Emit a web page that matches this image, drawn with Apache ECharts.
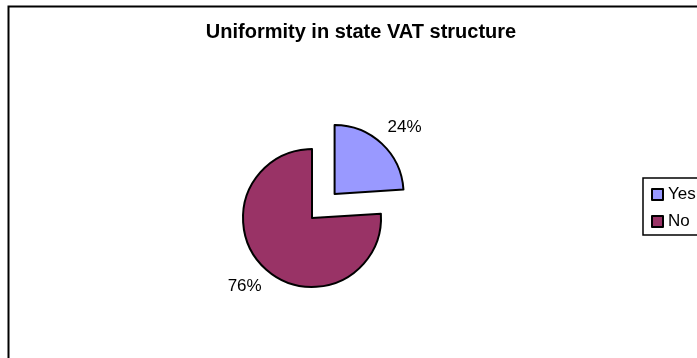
<!DOCTYPE html>
<html>
<head>
<meta charset="utf-8">
<script src="https://cdn.jsdelivr.net/npm/echarts@6/dist/echarts.min.js"></script>
<style>
  html, body { margin: 0; padding: 0; background: #fff; }
  #chart { width: 697px; height: 358px; }
</style>
</head>
<body>
<div id="chart"></div>
<script>
// Survey answers and their shares (percent)
const categories = ['Yes', 'No'];
const shares = [24, 76];
const sliceColors = ['#9999FF', '#993366'];
const chartTitle = 'Uniformity in state VAT structure';

const chart = echarts.init(document.getElementById('chart'), null, { renderer: 'canvas' });

const font = 'Arial, "Liberation Sans", sans-serif';

// label placement for each slice: distance of the text from the rim
const labelLineLengths = [23, 25];
const labelPullback = [-10, -14];

chart.setOption({
  animation: false,
  backgroundColor: '#ffffff',
  title: {
    text: chartTitle,
    left: 356,
    top: 17,
    textAlign: 'center',
    textStyle: { fontFamily: font, fontWeight: 'bold', fontSize: 20, color: '#000' }
  },
  graphic: [{
    type: 'rect',
    left: 6, top: 4,
    shape: { width: 800, height: 500 },
    style: { fill: 'none', stroke: '#000', lineWidth: 2 },
    silent: true, z: -1
  }],
  legend: {
    orient: 'vertical',
    left: 643,
    top: 178,
    data: categories,
    icon: 'rect',
    itemWidth: 11,
    itemHeight: 11,
    itemGap: 10,
    padding: [8, 40, 5, 8],
    borderColor: '#000',
    borderWidth: 1.5,
    selectedMode: false,
    textStyle: { fontFamily: font, fontSize: 17, color: '#000' }
  },
  series: [{
    type: 'pie',
    center: [312, 218],
    radius: 69,
    startAngle: 90,
    clockwise: true,
    selectedMode: 'single',
    selectedOffset: 33,
    itemStyle: { borderColor: '#000', borderWidth: 2 },
    label: {
      show: true,
      position: 'outside',
      formatter: '{d}%',
      fontFamily: font,
      fontSize: 17,
      color: '#000'
    },
    labelLine: { show: false, length2: 0 },
    emphasis: { disabled: true },
    data: categories.map((name, i) => ({
      name: name,
      value: shares[i],
      selected: i === 0,
      itemStyle: { color: sliceColors[i] },
      label: { distanceToLabelLine: labelPullback[i] },
      labelLine: { show: false, length: labelLineLengths[i], length2: 0 }
    }))
  }]
});
</script>
</body>
</html>
